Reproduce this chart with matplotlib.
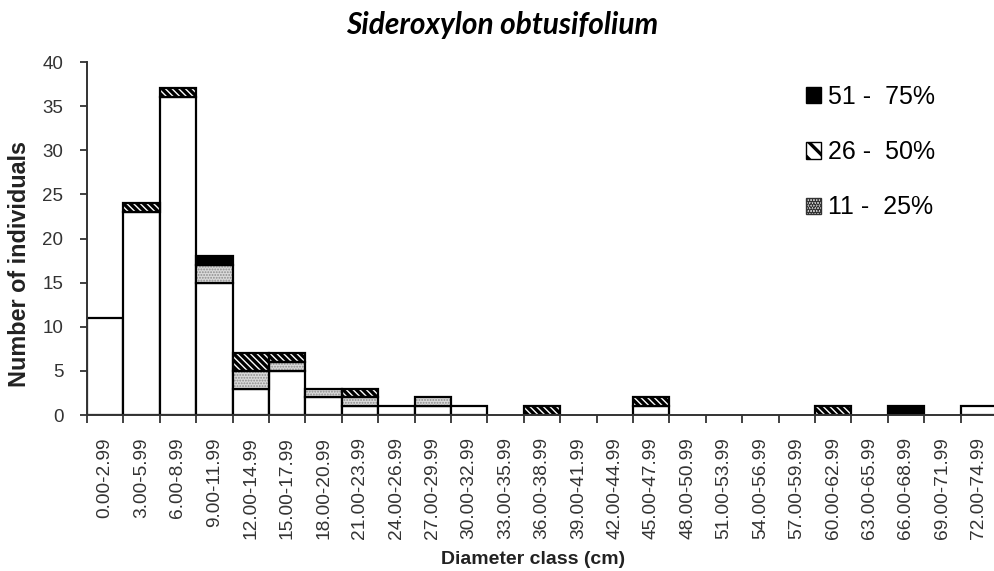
import matplotlib
matplotlib.use('Agg')
import matplotlib.pyplot as plt
import numpy as np
from matplotlib.patches import Patch

categories = ["0.00-2.99", "3.00-5.99", "6.00-8.99", "9.00-11.99", "12.00-14.99",
              "15.00-17.99", "18.00-20.99", "21.00-23.99", "24.00-26.99", "27.00-29.99",
              "30.00-32.99", "33.00-35.99", "36.00-38.99", "39.00-41.99", "42.00-44.99",
              "45.00-47.99", "48.00-50.99", "51.00-53.99", "54.00-56.99", "57.00-59.99",
              "60.00-62.99", "63.00-65.99", "66.00-68.99", "69.00-71.99", "72.00-74.99"]
white   = [11, 23, 36, 15, 3, 5, 2, 1, 1, 1, 1, 0, 0, 0, 0, 1, 0, 0, 0, 0, 0, 0, 0, 0, 1]
dotted  = [0, 0, 0, 2, 2, 1, 1, 1, 0, 1, 0, 0, 0, 0, 0, 0, 0, 0, 0, 0, 0, 0, 0, 0, 0]
hatched = [0, 1, 1, 0, 2, 1, 0, 1, 0, 0, 0, 0, 1, 0, 0, 1, 0, 0, 0, 0, 1, 0, 0, 0, 0]
black   = [0, 0, 0, 1, 0, 0, 0, 0, 0, 0, 0, 0, 0, 0, 0, 0, 0, 0, 0, 0, 0, 0, 1, 0, 0]
legend_labels = ["51 -  75%", "26 -  50%", "11 -  25%"]
yticks = [0, 5, 10, 15, 20, 25, 30, 35, 40]

plt.rcParams['font.family'] = ['Liberation Sans', 'DejaVu Sans']
plt.rcParams['hatch.linewidth'] = 2.4

HATCH = '\\' * 5
DOTS = '.' * 6

fig = plt.figure(figsize=(9.95, 5.71), dpi=100)
ax = fig.add_axes([0.0874, 0.2732, 0.9146, 0.6182])

x = np.arange(len(categories))
w = np.array(white, float)
d = np.array(dotted, float)
h = np.array(hatched, float)
b = np.array(black, float)
EW = 1.6

def draw(vals, bottom, **kw):
    m = vals > 0
    return ax.bar(x[m], vals[m], bottom=bottom[m], width=1.0, **kw)

zero = np.zeros_like(w)
draw(w, zero, facecolor='white', edgecolor='black', linewidth=EW, zorder=2)
b1 = w
with plt.rc_context({'hatch.linewidth': 0.9}):
    draw(d, b1, facecolor='#dadada', edgecolor='#8c8c8c', hatch=DOTS, linewidth=0, zorder=2)
draw(d, b1, fill=False, edgecolor='black', linewidth=EW, zorder=3)
b2 = w + d
draw(h, b2, facecolor='white', edgecolor='black', hatch=HATCH, linewidth=EW, zorder=2)
b3 = w + d + h
draw(b, b3, facecolor='black', edgecolor='black', linewidth=EW, zorder=2)

ax.set_xlim(-0.5, len(categories) - 0.5)
ax.set_ylim(0, 40)
ax.set_yticks(yticks)
ax.set_xticks(x)
ax.set_xticklabels(categories, rotation=90, fontsize=13.8, color='#333333')
ax.set_xticks(np.arange(len(categories) + 1) - 0.5, minor=True)
ax.tick_params(axis='x', which='major', length=0, pad=16)
ax.tick_params(axis='x', which='minor', length=6, width=1.3, color='#333333', direction='out')
ax.tick_params(axis='y', length=5, width=1.3, color='#333333', direction='out',
               labelsize=13.5, labelcolor='#333333', pad=12)
for s in ['top', 'right']:
    ax.spines[s].set_visible(False)
for s in ['left', 'bottom']:
    ax.spines[s].set_color('#333333')
    ax.spines[s].set_linewidth(1.4)

with plt.rc_context({'hatch.linewidth': 0.9}):
    dot_handle = Patch(facecolor='#dadada', edgecolor='#333333', hatch=DOTS)
handles = [Patch(facecolor='black', edgecolor='black'),
           Patch(facecolor='white', edgecolor='black', hatch='\\\\'),
           dot_handle]
fig.legend(handles, legend_labels, loc='upper left', bbox_to_anchor=(806 / 995, 1 - 85 / 571),
           bbox_transform=fig.transFigure, frameon=False, fontsize=18,
           handlelength=0.62, handleheight=0.62, handletextpad=0.25,
           labelspacing=1.25, borderpad=0, borderaxespad=0)

fig.text(0.505, 1 - 25 / 571, "Sideroxylon obtusifolium", ha='center', va='center',
         fontsize=21.5, fontweight='bold', style='italic', family=['Lato', 'DejaVu Sans'])
fig.text(533 / 995, 1 - 560 / 571, "Diameter class (cm)", ha='center', va='center',
         fontsize=14, fontweight='bold', color='#222222')
fig.text(20 / 995, 1 - 264 / 571, "Number of individuals", ha='center', va='center',
         rotation=90, fontsize=16.8, fontweight='bold', color='#222222')

fig.savefig('out.png', dpi=100)
